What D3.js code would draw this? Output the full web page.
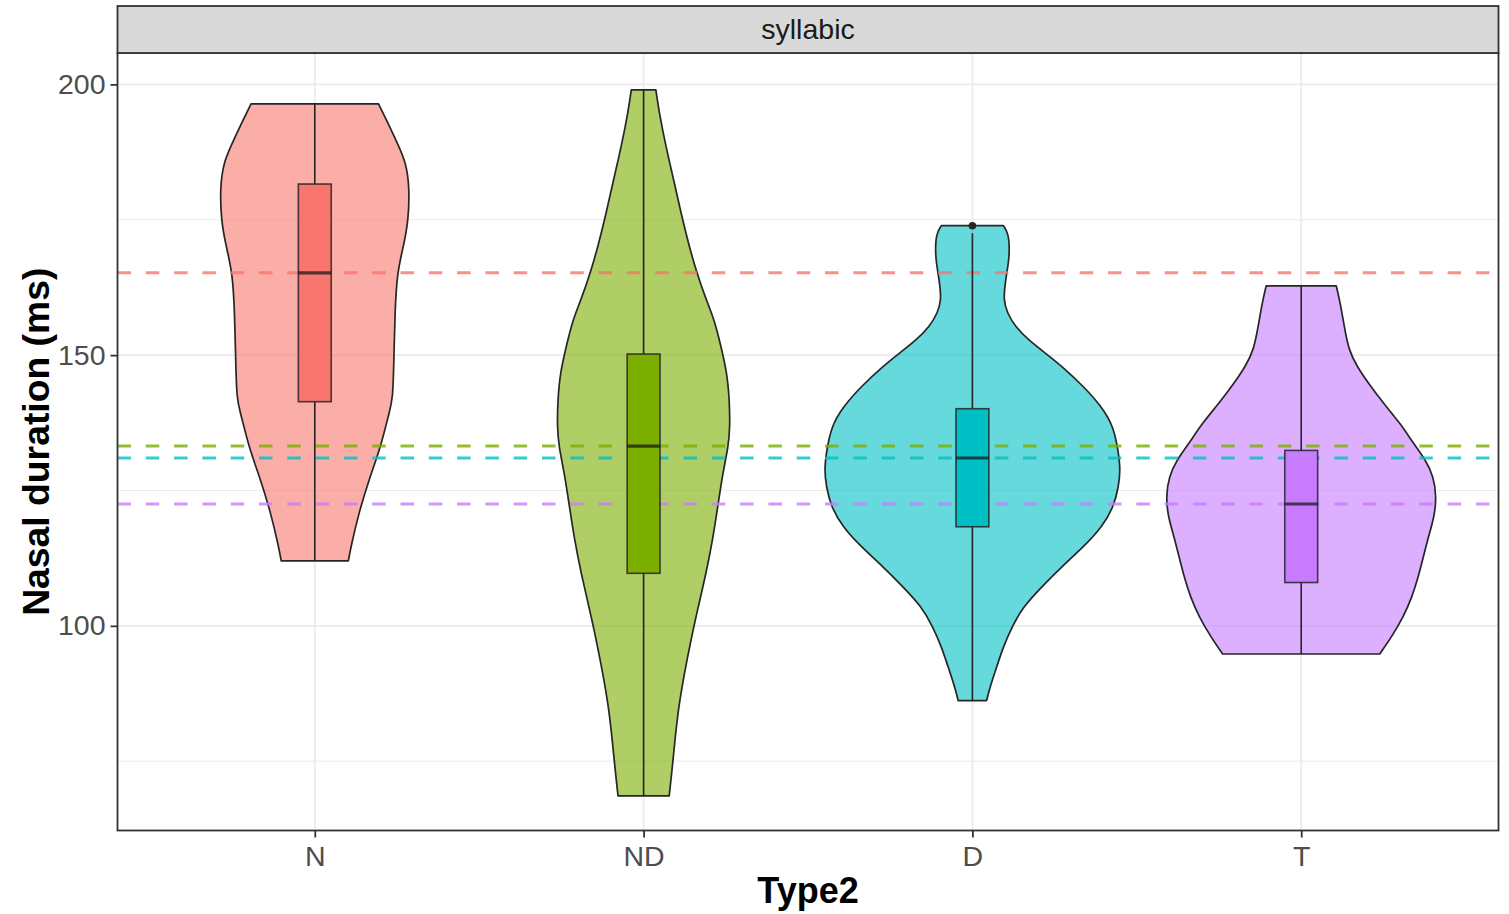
<!DOCTYPE html>
<html>
<head>
<meta charset="utf-8">
<script src="https://cdn.jsdelivr.net/npm/d3@7"></script>
<style>
  html, body { margin: 0; padding: 0; background: #fff; }
  svg { display: block; font-family: "Liberation Sans", Arial, sans-serif; }
</style>
</head>
<body>
<svg id="chart" width="1509" height="914"></svg>
<script>
// Groups and their fill colours
const categories = ["N", "ND", "D", "T"];
const colors = ["#F8766D", "#7CAE00", "#00BFC4", "#C77CFF"];
const facetLabel = "syllabic";

// Y axis ticks (major labelled, minor gridlines)
const yTicks = [100, 150, 200];
const yMinorTicks = [75, 125, 175];

// Violin profiles: [duration (ms), scaled density] — density 1 = widest violin
const densityN = [
  [196.4, 0.431], [192.9, 0.494], [188.5, 0.569], [185.5, 0.616], [181.1, 0.640],
  [175.0, 0.633], [170.5, 0.603], [165.1, 0.555], [157.8, 0.542], [149.7, 0.535],
  [141.7, 0.528], [139.3, 0.501], [133.1, 0.447], [127.0, 0.366], [120.9, 0.298],
  [114.6, 0.244], [112.0, 0.227]
];
const densityND = [
  [199.0, 0.083], [194.7, 0.106], [188.5, 0.151], [182.4, 0.203], [176.2, 0.253],
  [170.0, 0.309], [165.1, 0.361], [160.8, 0.415], [156.5, 0.479], [151.6, 0.523],
  [146.7, 0.564], [141.7, 0.580], [136.8, 0.584], [133.1, 0.573], [128.2, 0.535],
  [122.0, 0.501], [115.9, 0.467], [109.7, 0.422], [103.6, 0.370], [97.4, 0.320],
  [91.3, 0.276], [85.1, 0.237], [79.0, 0.212], [72.8, 0.190], [68.6, 0.173]
];
const densityD = [
  [173.9, 0.210], [172.5, 0.244], [169.4, 0.251], [167.0, 0.244], [163.3, 0.221],
  [160.2, 0.210], [157.8, 0.235], [155.3, 0.289], [152.8, 0.379], [150.4, 0.492],
  [147.9, 0.607], [144.2, 0.752], [140.5, 0.873], [136.8, 0.955], [131.9, 0.988],
  [128.8, 1.000], [125.7, 0.988], [122.0, 0.955], [118.3, 0.878], [114.6, 0.752],
  [111.0, 0.607], [107.3, 0.472], [103.6, 0.345], [99.9, 0.269], [96.2, 0.210],
  [92.5, 0.165], [88.8, 0.120], [86.2, 0.096]
];
const densityT = [
  [162.8, 0.237], [159.6, 0.264], [155.3, 0.291], [151.0, 0.320], [147.9, 0.377],
  [144.8, 0.454], [141.1, 0.555], [137.4, 0.670], [133.7, 0.758], [130.7, 0.840],
  [127.6, 0.894], [123.9, 0.914], [120.2, 0.900], [116.5, 0.860], [112.8, 0.826],
  [109.1, 0.792], [105.4, 0.750], [101.7, 0.691], [98.1, 0.614], [94.8, 0.531]
];
const densities = [densityN, densityND, densityD, densityT];

// Box-plot summaries per group
const whiskerLow  = [112.0, 68.6, 86.2, 94.8];
const quartile1   = [141.4, 109.7, 118.3, 108.0];
const medians     = [165.2, 133.2, 131.0, 122.5];
const quartile3   = [181.6, 150.2, 140.1, 132.4];
const whiskerHigh = [196.4, 199.0, 172.5, 162.8];
const outliers    = [[], [], [173.9], []];

// Layout
const panel = { left: 117.5, right: 1498.5, top: 53, bottom: 830.5 };
const strip = { top: 6, bottom: 53 };

const svg = d3.select("#chart");

const x = d3.scalePoint()
  .domain(categories)
  .range([panel.left, panel.right])
  .padding(0.6);
const step = x.step();

const y = d3.scaleLinear()
  .domain([62.2, 205.8])
  .range([panel.bottom, panel.top]);

// Panel background
svg.append("rect")
  .attr("x", panel.left).attr("y", panel.top)
  .attr("width", panel.right - panel.left)
  .attr("height", panel.bottom - panel.top)
  .attr("fill", "#fff");

// Gridlines
const grid = svg.append("g");
grid.selectAll("line.minor")
  .data(yMinorTicks)
  .join("line")
  .attr("x1", panel.left).attr("x2", panel.right)
  .attr("y1", d => y(d)).attr("y2", d => y(d))
  .attr("stroke", "#EBEBEB").attr("stroke-width", 1);
grid.selectAll("line.major")
  .data(yTicks)
  .join("line")
  .attr("x1", panel.left).attr("x2", panel.right)
  .attr("y1", d => y(d)).attr("y2", d => y(d))
  .attr("stroke", "#EBEBEB").attr("stroke-width", 1.8);
grid.selectAll("line.vmajor")
  .data(categories)
  .join("line")
  .attr("x1", d => x(d)).attr("x2", d => x(d))
  .attr("y1", panel.top).attr("y2", panel.bottom)
  .attr("stroke", "#EBEBEB").attr("stroke-width", 1.8);

// Violins
const violinArea = (cx) => d3.area()
  .curve(d3.curveBasis)
  .y(d => y(d[0]))
  .x0(d => cx - d[1] * 0.45 * step)
  .x1(d => cx + d[1] * 0.45 * step);

svg.append("g")
  .selectAll("path")
  .data(categories)
  .join("path")
  .attr("d", (c, i) => violinArea(x(c))(densities[i]))
  .attr("fill", (c, i) => colors[i])
  .attr("fill-opacity", 0.6)
  .attr("stroke", "#262626")
  .attr("stroke-width", 1.7)
  .attr("stroke-linejoin", "round");

// Reference lines at each group's median
svg.append("g")
  .selectAll("line")
  .data(categories)
  .join("line")
  .attr("x1", panel.left).attr("x2", panel.right)
  .attr("y1", (c, i) => y(medians[i])).attr("y2", (c, i) => y(medians[i]))
  .attr("stroke", (c, i) => colors[i])
  .attr("stroke-opacity", 0.8)
  .attr("stroke-width", 3)
  .attr("stroke-dasharray", "13.5,14.8");

// Box plots
const boxHalf = 0.05 * step;
const boxes = svg.append("g");
boxes.selectAll("line.whisker")
  .data(categories)
  .join("line")
  .attr("x1", c => x(c)).attr("x2", c => x(c))
  .attr("y1", (c, i) => y(whiskerLow[i]))
  .attr("y2", (c, i) => y(whiskerHigh[i]))
  .attr("stroke", "#262626").attr("stroke-width", 1.6);
boxes.selectAll("rect")
  .data(categories)
  .join("rect")
  .attr("x", c => x(c) - boxHalf)
  .attr("width", boxHalf * 2)
  .attr("y", (c, i) => y(quartile3[i]))
  .attr("height", (c, i) => y(quartile1[i]) - y(quartile3[i]))
  .attr("fill", (c, i) => colors[i])
  .attr("stroke", "#262626").attr("stroke-opacity", 0.85)
  .attr("stroke-width", 1.6);
boxes.selectAll("line.median")
  .data(categories)
  .join("line")
  .attr("x1", c => x(c) - boxHalf).attr("x2", c => x(c) + boxHalf)
  .attr("y1", (c, i) => y(medians[i])).attr("y2", (c, i) => y(medians[i]))
  .attr("stroke", "#1a1a1a").attr("stroke-opacity", 0.75)
  .attr("stroke-width", 3.2);
boxes.selectAll("g.out")
  .data(categories)
  .join("g")
  .selectAll("circle")
  .data((c, i) => outliers[i].map(v => [c, v]))
  .join("circle")
  .attr("cx", d => x(d[0]))
  .attr("cy", d => y(d[1]))
  .attr("r", 3.8)
  .attr("fill", "#262626");

// Panel border
svg.append("rect")
  .attr("x", panel.left).attr("y", panel.top)
  .attr("width", panel.right - panel.left)
  .attr("height", panel.bottom - panel.top)
  .attr("fill", "none")
  .attr("stroke", "#333").attr("stroke-width", 1.8);

// Facet strip
svg.append("rect")
  .attr("x", panel.left).attr("y", strip.top)
  .attr("width", panel.right - panel.left)
  .attr("height", strip.bottom - strip.top)
  .attr("fill", "#D9D9D9")
  .attr("stroke", "#333").attr("stroke-width", 1.8);
svg.append("text")
  .attr("x", (panel.left + panel.right) / 2)
  .attr("y", (strip.top + strip.bottom) / 2)
  .attr("dy", "0.35em")
  .attr("text-anchor", "middle")
  .attr("font-size", 28.5)
  .attr("fill", "#1A1A1A")
  .text(facetLabel);

// Axes
const yAxis = svg.append("g")
  .attr("transform", `translate(${panel.left},0)`)
  .call(d3.axisLeft(y).tickValues(yTicks).tickSize(7).tickPadding(5));
const xAxis = svg.append("g")
  .attr("transform", `translate(0,${panel.bottom})`)
  .call(d3.axisBottom(x).tickSize(7).tickPadding(8));
[yAxis, xAxis].forEach(ax => {
  ax.select(".domain").remove();
  ax.selectAll(".tick line").attr("stroke", "#333").attr("stroke-width", 1.8);
  ax.selectAll(".tick text")
    .attr("font-size", 28.5)
    .attr("fill", "#4D4D4D")
    .attr("font-family", "Liberation Sans, Arial, sans-serif");
});

// Axis titles
svg.append("text")
  .attr("x", (panel.left + panel.right) / 2)
  .attr("y", 903)
  .attr("text-anchor", "middle")
  .attr("font-size", 36)
  .attr("font-weight", "bold")
  .attr("fill", "#000")
  .text("Type2");
svg.append("text")
  .attr("transform", `translate(49,${(panel.top + panel.bottom) / 2}) rotate(-90)`)
  .attr("text-anchor", "middle")
  .attr("font-size", 37.3)
  .attr("font-weight", "bold")
  .attr("fill", "#000")
  .text("Nasal duration (ms)");
</script>
</body>
</html>
